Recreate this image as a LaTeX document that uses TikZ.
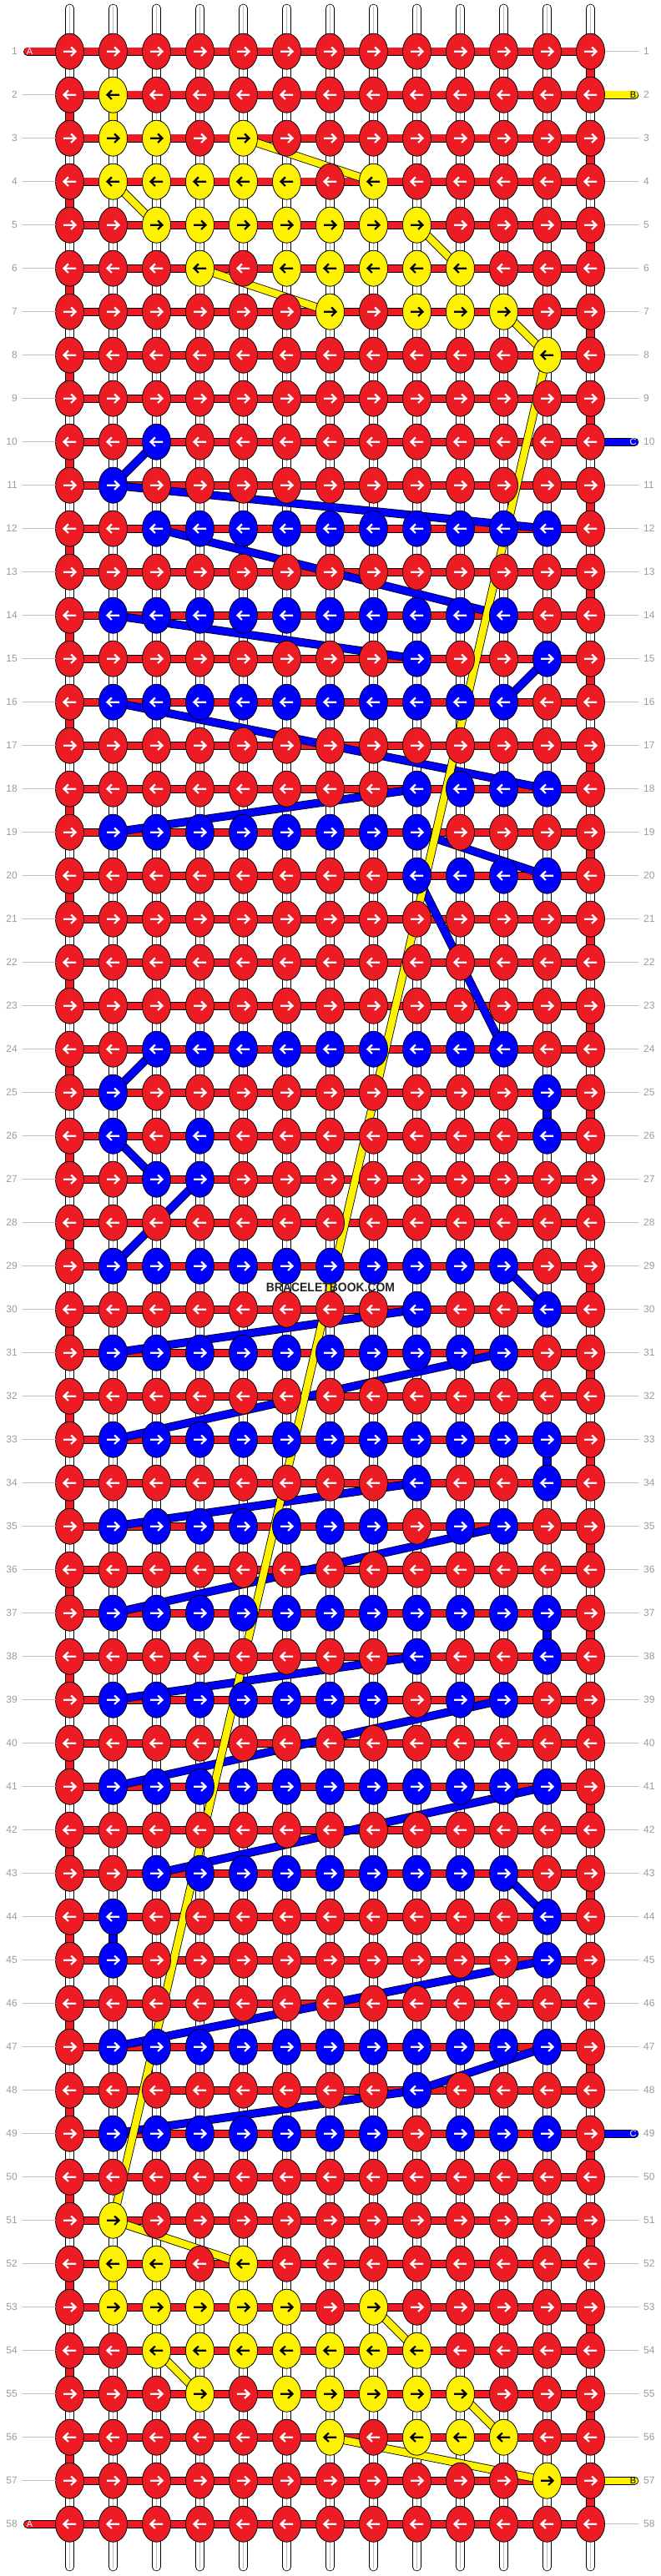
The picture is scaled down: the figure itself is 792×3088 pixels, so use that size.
\documentclass[tikz,border=0pt]{standalone}
\usepackage{fontspec}
\setmainfont{Liberation Sans}
\usetikzlibrary{shapes.geometric}
\definecolor{cr}{RGB}{237,28,36}
\definecolor{cy}{RGB}{255,242,0}
\definecolor{cb}{RGB}{0,0,255}
\definecolor{lblgray}{RGB}{155,155,155}
\definecolor{linegray}{RGB}{190,190,190}
\pgfdeclarelayer{strands}\pgfdeclarelayer{rows}\pgfdeclarelayer{threads}
\pgfsetlayers{strands,rows,threads,main}
\tikzset{
 knot/.style={ellipse, draw=black, line width=0.8pt, minimum width=34pt, minimum height=43pt, inner sep=0pt, outer sep=0pt},
 thread/.style={draw=black, line width=0.8pt, double distance=8.4pt, double=#1},
 strand/.style={draw=black, line width=0.8pt, double=white, double distance=9pt, line cap=round},
 arr/.style={line width=2.2pt, draw=#1, line cap=butt, line join=miter},
 lbl/.style={text=lblgray, font=\fontsize{12}{12}\selectfont, inner sep=0pt},
 lblline/.style={draw=linegray, line width=1pt},
 tabletter/.style={font=\fontsize{11}{11}\selectfont, inner sep=0pt},
}
\def\kyy{y}
\newcommand\krow[2]{%
 \foreach[count=\kcol] \k in {#2}{%
  \node[knot, fill=c\k] (k-#1-\kcol) at ({83.5+52*(\kcol-1)},{61.7+52*(#1-1)}) {};
  \ifx\k\kyy\def\ac{black}\else\def\ac{white}\fi
  \ifodd#1\relax\def\kdir{1}\else\def\kdir{-1}\fi
  \draw[arr=\ac, shift={(k-#1-\kcol.center)}, xscale=\kdir] (-7.5,0) -- (6,0) (1.6,-5.3) -- (7,0) -- (1.6,5.3);
 }}
\def\R{r,r,r,r,r,r,r,r,r,r,r,r,r}
\begin{document}
\begin{tikzpicture}[x=1pt,y=-1pt]
\useasboundingbox (0,0) rectangle (792,3088);
\begin{pgfonlayer}{strands}
\fill[white] (0,0) rectangle (792,3088);
\foreach \kcol in {1,...,13}{
 \draw[strand] ({83.5+52*(\kcol-1)},10) -- ({83.5+52*(\kcol-1)},3077);
 \draw[linegray, line width=0.7pt] ({83.5+52*(\kcol-1)},8) -- ({83.5+52*(\kcol-1)},3079);}
\end{pgfonlayer}
\krow{1}{r,r,r,r,r,r,r,r,r,r,r,r,r}
\krow{2}{r,y,r,r,r,r,r,r,r,r,r,r,r}
\krow{3}{r,y,y,r,y,r,r,r,r,r,r,r,r}
\krow{4}{r,y,y,y,y,y,r,y,r,r,r,r,r}
\krow{5}{r,r,y,y,y,y,y,y,y,r,r,r,r}
\krow{6}{r,r,r,y,r,y,y,y,y,y,r,r,r}
\krow{7}{r,r,r,r,r,r,y,r,y,y,y,r,r}
\krow{8}{r,r,r,r,r,r,r,r,r,r,r,y,r}
\krow{9}{r,r,r,r,r,r,r,r,r,r,r,r,r}
\krow{10}{r,r,b,r,r,r,r,r,r,r,r,r,r}
\krow{11}{r,b,r,r,r,r,r,r,r,r,r,r,r}
\krow{12}{r,r,b,b,b,b,b,b,b,b,b,b,r}
\krow{13}{r,r,r,r,r,r,r,r,r,r,r,r,r}
\krow{14}{r,b,b,b,b,b,b,b,b,b,b,r,r}
\krow{15}{r,r,r,r,r,r,r,r,b,r,r,b,r}
\krow{16}{r,b,b,b,b,b,b,b,b,b,b,r,r}
\krow{17}{r,r,r,r,r,r,r,r,r,r,r,r,r}
\krow{18}{r,r,r,r,r,r,r,r,b,b,b,b,r}
\krow{19}{r,b,b,b,b,b,b,b,b,r,r,r,r}
\krow{20}{r,r,r,r,r,r,r,r,b,b,b,b,r}
\krow{21}{r,r,r,r,r,r,r,r,r,r,r,r,r}
\krow{22}{r,r,r,r,r,r,r,r,r,r,r,r,r}
\krow{23}{r,r,r,r,r,r,r,r,r,r,r,r,r}
\krow{24}{r,r,b,b,b,b,b,b,b,b,b,r,r}
\krow{25}{r,b,r,r,r,r,r,r,r,r,r,b,r}
\krow{26}{r,b,r,b,r,r,r,r,r,r,r,b,r}
\krow{27}{r,r,b,b,r,r,r,r,r,r,r,r,r}
\krow{28}{r,r,r,r,r,r,r,r,r,r,r,r,r}
\krow{29}{r,b,b,b,b,b,b,b,b,b,b,r,r}
\krow{30}{r,r,r,r,r,r,r,r,b,r,r,b,r}
\krow{31}{r,b,b,b,b,b,b,b,b,b,b,r,r}
\krow{32}{r,r,r,r,r,r,r,r,r,r,r,r,r}
\krow{33}{r,b,b,b,b,b,b,b,b,b,b,b,r}
\krow{34}{r,r,r,r,r,r,r,r,b,r,r,b,r}
\krow{35}{r,b,b,b,b,b,b,b,r,b,b,r,r}
\krow{36}{r,r,r,r,r,r,r,r,r,r,r,r,r}
\krow{37}{r,b,b,b,b,b,b,b,b,b,b,b,r}
\krow{38}{r,r,r,r,r,r,r,r,b,r,r,b,r}
\krow{39}{r,b,b,b,b,b,b,b,r,b,b,r,r}
\krow{40}{r,r,r,r,r,r,r,r,r,r,r,r,r}
\krow{41}{r,b,b,b,b,b,b,b,b,b,b,b,r}
\krow{42}{r,r,r,r,r,r,r,r,r,r,r,r,r}
\krow{43}{r,r,b,b,b,b,b,b,b,b,b,r,r}
\krow{44}{r,b,r,r,r,r,r,r,r,r,r,b,r}
\krow{45}{r,b,r,r,r,r,r,r,r,r,r,b,r}
\krow{46}{r,r,r,r,r,r,r,r,r,r,r,r,r}
\krow{47}{r,b,b,b,b,b,b,b,b,b,b,b,r}
\krow{48}{r,r,r,r,r,r,r,r,b,r,r,r,r}
\krow{49}{r,b,b,b,b,b,b,b,r,b,b,b,r}
\krow{50}{r,r,r,r,r,r,r,r,r,r,r,r,r}
\krow{51}{r,y,r,r,r,r,r,r,r,r,r,r,r}
\krow{52}{r,y,y,r,y,r,r,r,r,r,r,r,r}
\krow{53}{r,y,y,y,y,y,r,y,r,r,r,r,r}
\krow{54}{r,r,y,y,y,y,y,y,y,r,r,r,r}
\krow{55}{r,r,r,y,r,y,y,y,y,y,r,r,r}
\krow{56}{r,r,r,r,r,r,y,r,y,y,y,r,r}
\krow{57}{r,r,r,r,r,r,r,r,r,r,r,y,r}
\krow{58}{r,r,r,r,r,r,r,r,r,r,r,r,r}
% working thread A
\begin{pgfonlayer}{rows}
\foreach \r in {1,...,58}{\draw[thread=cr] (k-\r-1.center) -- (k-\r-13.center);}
\foreach \r in {1,...,57}{%
 \pgfmathtruncatemacro\rn{\r+1}%
 \ifodd\r\relax\def\ec{13}\else\def\ec{1}\fi
 \draw[thread=cr] (k-\r-\ec.center) -- (k-\rn-\ec.center);}
\coordinate (tA1) at (33,61.7);
\coordinate (tA2) at (33,3025.7);
\coordinate (tB1) at (760.3,113.7);
\coordinate (tB2) at (760.3,2973.7);
\coordinate (tC1) at (760.3,529.7);
\coordinate (tC2) at (760.3,2557.7);
\draw[thread=cr, line cap=round] (tA1) -- (k-1-1.center);
\draw[thread=cr, line cap=round] (tA2) -- (k-58-1.center);
\draw[thread=cy, line cap=round] (tB1) -- (k-2-13.center);
\draw[thread=cy, line cap=round] (tB2) -- (k-57-13.center);
\draw[thread=cb, line cap=round] (tC1) -- (k-10-13.center);
\draw[thread=cb, line cap=round] (tC2) -- (k-49-13.center);
\end{pgfonlayer}
% threads B and C
\begin{pgfonlayer}{threads}
\foreach \ra/\ca/\rb/\cb in {10/3/11/2, 11/2/12/12, 12/3/14/11, 14/2/15/9, 15/12/16/11, 16/2/18/12, 18/9/19/2, 19/9/20/12, 20/9/24/11, 24/3/25/2, 25/12/26/12, 26/2/27/3, 27/4/29/2, 29/11/30/12, 30/9/31/2, 31/11/33/2, 33/12/34/12, 34/9/35/2, 35/11/37/2, 37/12/38/12, 38/9/39/2, 39/11/41/2, 41/12/43/3, 43/11/44/12, 44/2/45/2, 45/12/47/2, 47/12/48/9, 48/9/49/2}
 {\draw[thread=cb] (k-\ra-\ca.center) -- (k-\rb-\cb.center);}
\foreach \ra/\ca/\rb/\cb in {2/2/3/2, 3/5/4/8, 4/2/5/3, 5/9/6/10, 6/4/7/7, 7/11/8/12, 8/12/51/2, 51/2/52/5, 52/2/53/2, 53/8/54/9, 54/3/55/4, 55/10/56/11, 56/7/57/12}
 {\draw[thread=cy] (k-\ra-\ca.center) -- (k-\rb-\cb.center);}
\end{pgfonlayer}
% tab letters
\node[tabletter, text=white] (lA1) at (35.5,61.7) {A};
\node[tabletter, text=white] (lA2) at (35.5,3025.7) {A};
\node[tabletter, text=black] (lB1) at (758.5,113.7) {B};
\node[tabletter, text=black] (lB2) at (758.5,2973.7) {B};
\node[tabletter, text=white] (lC1) at (758.5,529.7) {C};
\node[tabletter, text=white] (lC2) at (758.5,2557.7) {C};
% row labels
\foreach \r in {1,...,58}{%
 \node[lbl, anchor=east] (ll-\r) at (21,{61.7+52*(\r-1)}) {\r};
 \node[lbl, anchor=west] (lr-\r) at (771,{61.7+52*(\r-1)}) {\r};
}
\foreach \r in {2,...,57}{\draw[lblline] ([xshift=6pt]ll-\r.east) -- (k-\r-1.west);}
\foreach \r in {1,3,4,5,6,7,8,9,11,12,13,14,15,16,17,18,19,20,21,22,23,24,25,26,27,28,29,30,31,32,33,34,35,36,37,38,39,40,41,42,43,44,45,46,47,48,50,51,52,53,54,55,56,58}
 {\draw[lblline] (k-\r-13.east) -- ([xshift=-6pt]lr-\r.west);}
\node[font=\bfseries\fontsize{15}{15}\selectfont, text=black!85, inner sep=0pt] (wm) at (396,1543) {\scalebox{0.93}[1]{BRACELETBOOK.COM}};
\end{tikzpicture}
\end{document}
